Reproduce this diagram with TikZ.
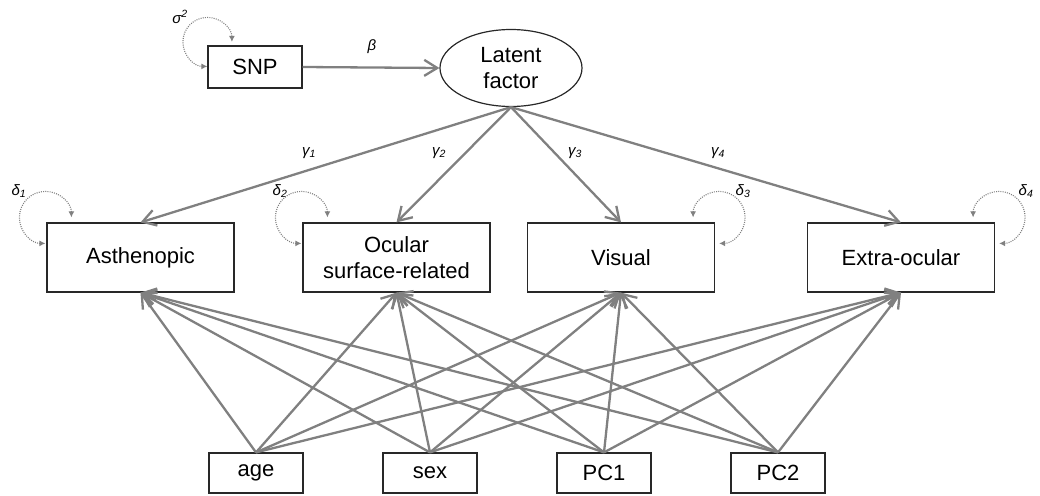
\documentclass[tikz,border=0pt]{standalone}
\usepackage{fontspec}
\setmainfont{Liberation Sans}
\usetikzlibrary{arrows.meta,shapes.geometric}
\definecolor{arrgray}{RGB}{128,128,128}
\definecolor{boxline}{RGB}{40,40,40}
\begin{document}
\begin{tikzpicture}[x=1pt,y=1pt,
  bigbox/.style={draw=boxline, line width=1.2pt, rectangle, minimum width=187pt, minimum height=69pt, inner sep=0pt, align=center, font=\fontsize{22}{26}\selectfont},
  smallbox/.style={draw=boxline, line width=1.2pt, rectangle, minimum width=94pt, minimum height=40pt, inner sep=0pt, font=\fontsize{22}{26}\selectfont},
  reg/.style={draw=arrgray, line width=2.3pt, -{Straight Barb[length=13pt,width=16pt]}},
  varloop/.style={draw=arrgray, line width=1.1pt, dash pattern=on 1pt off 1.2pt, {Latex[length=6pt,width=6pt]}-{Latex[length=6pt,width=6pt]}},
  lbl/.style={font=\fontsize{15}{17}\selectfont\itshape, inner sep=0pt}
]
\useasboundingbox (0,0) rectangle (1040,-495);

% nodes
\node[smallbox, minimum height=42pt] (snp) at (255,-67) {SNP};
\node[draw=boxline, line width=1.2pt, ellipse, minimum width=142pt, minimum height=77pt, inner sep=0pt, align=center, font=\fontsize{22}{26}\selectfont] (lat) at (511,-68) {Latent\\factor};

\node[bigbox] (asth) at (140.5,-257.5) {Asthenopic};
\node[bigbox] (ocul) at (396.5,-257.5) {Ocular\\surface-related};
\node[bigbox] (vis) at (621,-257.5) {Visual};
\node[bigbox] (extra) at (901,-257.5) {Extra-ocular};

\node[smallbox] (age) at (256,-473) {age};
\node[smallbox] (sex) at (430,-473) {sex};
\node[smallbox] (pc1) at (604,-473) {PC1};
\node[smallbox] (pc2) at (778,-473) {PC2};

% labels
\node[lbl] (beta) at (372,-47) {β};
\node[lbl] (sig) at (180,-17) {σ\textsuperscript{2}};
\node[lbl] (g1) at (309,-153) {γ\textsubscript{1}};
\node[lbl] (g2) at (439,-153) {γ\textsubscript{2}};
\node[lbl] (g3) at (575,-153) {γ\textsubscript{3}};
\node[lbl] (g4) at (718,-153) {γ\textsubscript{4}};
\node[lbl] (d1) at (19,-191) {δ\textsubscript{1}};
\node[lbl] (d2) at (280,-191) {δ\textsubscript{2}};
\node[lbl] (d3) at (743,-191) {δ\textsubscript{3}};
\node[lbl] (d4) at (1026,-191) {δ\textsubscript{4}};

% structural paths
\draw[reg] (snp.east) -- (lat.west);
\foreach \t in {asth,ocul,vis,extra}{
  \draw[reg] (lat.south) -- (\t.north);
}
\foreach \s in {age,sex,pc1,pc2}{
  \foreach \t in {asth,ocul,vis,extra}{
    \draw[reg] (\s.north) -- (\t.south);
  }
}

% variance loops
\draw[varloop] ([shift={(24.5,3.5)}]snp.north west) arc[start angle=0, end angle=270, radius=24.5];
\draw[varloop] ([shift={(25,5)}]asth.north west) arc[start angle=0, end angle=270, radius=26];
\draw[varloop] ([shift={(25,5)}]ocul.north west) arc[start angle=0, end angle=270, radius=26];
\draw[varloop] ([shift={(-22,5)}]vis.north east) arc[start angle=180, end angle=-90, radius=26];
\draw[varloop] ([shift={(-22,5)}]extra.north east) arc[start angle=180, end angle=-90, radius=26];
\end{tikzpicture}
\end{document}
